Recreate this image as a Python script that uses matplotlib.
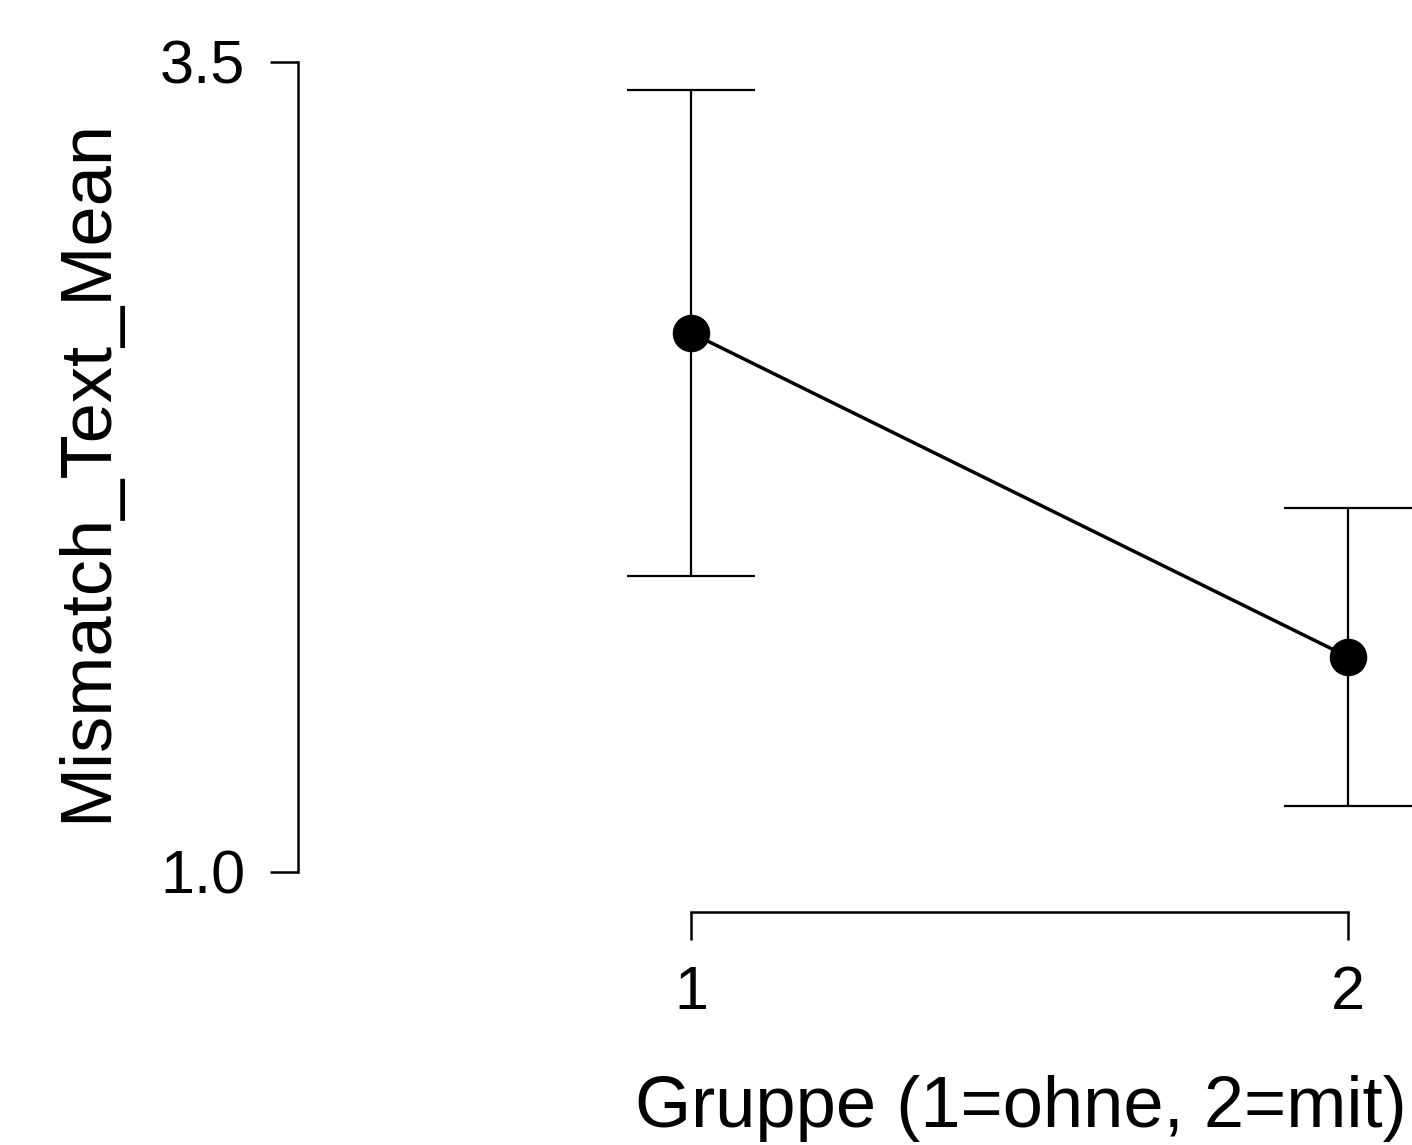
import matplotlib
matplotlib.use('Agg')
import matplotlib.pyplot as plt

plt.rcParams['font.family'] = ['Liberation Sans', 'DejaVu Sans']

# Gruppen und Mittelwerte mit Fehlerbalken
gruppe = [1, 2]
mittelwert = [2.664, 1.664]
obere_grenze = [3.414, 2.123]
untere_grenze = [1.914, 1.204]

err_unten = [m - u for m, u in zip(mittelwert, untere_grenze)]
err_oben = [o - m for m, o in zip(mittelwert, obere_grenze)]

fig = plt.figure(figsize=(14.12, 11.45), dpi=100)
ax = fig.add_axes([298 / 1412, 1 - 872 / 1145, 1 - 298 / 1412, 810 / 1145])

ax.errorbar(gruppe, mittelwert, yerr=[err_unten, err_oben], fmt='none',
            ecolor='black', elinewidth=1.6, capsize=46, capthick=1.6, zorder=2)
ax.plot(gruppe, mittelwert, color='black', linewidth=2.5, marker='o',
        markersize=26, zorder=3)

ax.set_xlim(0.4018, 2.0974)
ax.set_ylim(1.0, 3.5)
ax.set_xticks(gruppe)
ax.set_xticklabels(['1', '2'])
ax.set_yticks([1.0, 3.5])
ax.set_yticklabels(['1.0', '3.5'])

for s in ['top', 'right']:
    ax.spines[s].set_visible(False)
ax.spines['bottom'].set_position(('outward', 28.8))
ax.spines['bottom'].set_bounds(1, 2)
ax.spines['left'].set_bounds(1.0, 3.5)
for s in ['bottom', 'left']:
    ax.spines[s].set_linewidth(1.8)

ax.tick_params(axis='both', length=20, width=1.8, pad=18, labelsize=44)

ax.set_xlabel('Gruppe (1=ohne, 2=mit)', fontsize=52)
ax.xaxis.set_label_coords(0.649, -0.292)
ax.xaxis.label.set_va('center')
ax.set_ylabel('Mismatch_Text_Mean', fontsize=52)
ax.yaxis.set_label_coords(-0.189, 0.496)
ax.yaxis.label.set_va('center')

plt.savefig('out.png', dpi=100)
